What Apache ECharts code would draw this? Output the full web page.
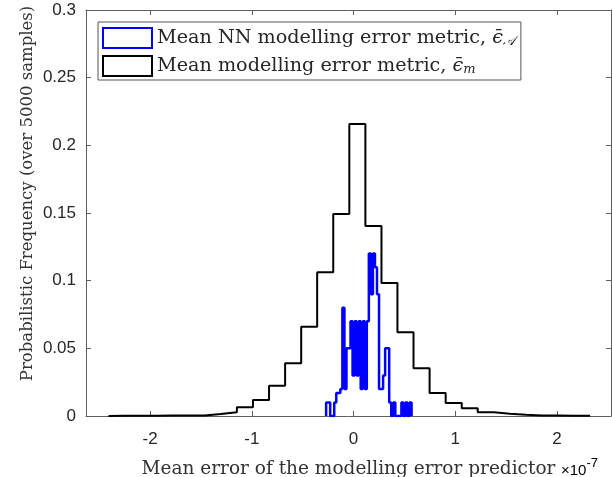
<!DOCTYPE html>
<html>
<head>
<meta charset="utf-8">
<script src="https://cdn.jsdelivr.net/npm/echarts@6/dist/echarts.min.js"></script>
<style>html,body{margin:0;padding:0;background:#fff;}#c{width:612px;height:477px;}</style>
</head>
<body>
<div id="c"></div>
<script>
// ---- data ----
const xTickValues = [-2, -1, 0, 1, 2];
const blackName = 'Mean modelling error metric';
const blueName = 'Mean NN modelling error metric';
// black histogram (bin edges in units of 1e-7, probabilistic frequency per bin)
const blackEdges = [-2.409, -2.251, -2.093, -1.936, -1.778, -1.620, -1.462, -1.305, -1.147, -0.989,
  -0.831, -0.673, -0.515, -0.358, -0.200, -0.042, 0.116, 0.274, 0.431, 0.589,
  0.747, 0.905, 1.063, 1.220, 1.378, 1.536, 1.694, 1.852, 2.009, 2.167, 2.325];
const blackValues = [0.0002, 0.0002, 0.0002, 0.0004, 0.0004, 0.0004, 0.0014, 0.0028, 0.0064, 0.0118,
  0.0224, 0.039, 0.066, 0.1062, 0.1493, 0.2158, 0.1404, 0.0983, 0.0618, 0.0352,
  0.017, 0.0096, 0.0057, 0.0027, 0.0017, 0.001, 0.0004, 0.0004, 0.0002, 0.0002];
// blue histogram
const blueEdges = [-0.27, -0.25, -0.23, -0.21, -0.19, -0.17, -0.15, -0.13, -0.11, -0.09,
  -0.07, -0.05, -0.03, -0.01, 0.01, 0.03, 0.05, 0.07, 0.09, 0.11,
  0.13, 0.15, 0.17, 0.19, 0.21, 0.23, 0.25, 0.27, 0.29, 0.31,
  0.33, 0.35, 0.37, 0.39, 0.41, 0.43, 0.45, 0.47, 0.49, 0.51,
  0.53, 0.55, 0.57];
const blueValues = [0.01, 0.01, 0, 0, 0.01, 0.017, 0.017, 0.02, 0.08, 0.02,
  0.05, 0.05, 0.07, 0.03, 0.07, 0.03, 0.07, 0.02, 0.07, 0.02,
  0.07, 0.12, 0.09, 0.12, 0.11, 0.09, 0.02, 0.02, 0.03, 0.05,
  0.05, 0.01, 0, 0.01, 0, 0, 0, 0.01, 0, 0.01,
  0, 0.01];

function stairs(edges, values) {
  const pts = [[edges[0], 0]];
  for (let i = 0; i < values.length; i++) pts.push([edges[i], values[i]]);
  pts.push([edges[edges.length - 1], values[values.length - 1]]);
  pts.push([edges[edges.length - 1], 0]);
  return pts;
}

const axisColor = '#5e5e5e';
const textColor = '#262626';
const serif = 'DejaVu Serif';
const sans = 'Liberation Sans';

const chart = echarts.init(document.getElementById('c'), null, {renderer: 'canvas'});
const tickStyle = {color: axisColor, width: 1};
chart.setOption({
  animation: false,
  backgroundColor: '#fff',
  grid: {left: 86, right: 1, top: 10, bottom: 61, containLabel: false, outerBoundsMode: 'none'},
  xAxis: [{
    type: 'value', position: 'bottom', min: -2.63, max: 2.53,
    name: 'Mean error of the modelling error predictor', nameLocation: 'middle', nameGap: 44,
    nameTextStyle: {fontFamily: serif, fontSize: 18.5, color: '#333'},
    axisLine: {show: true, onZero: false, lineStyle: tickStyle},
    axisTick: {show: true, inside: true, length: 5, customValues: xTickValues, lineStyle: tickStyle},
    axisLabel: {customValues: xTickValues, fontFamily: sans, fontSize: 17, color: textColor, margin: 15},
    splitLine: {show: false}
  }, {
    type: 'value', position: 'top', min: -2.63, max: 2.53,
    axisLine: {show: true, onZero: false, lineStyle: tickStyle},
    axisTick: {show: true, inside: true, length: 5, customValues: xTickValues, lineStyle: tickStyle},
    axisLabel: {show: false}, splitLine: {show: false}
  }],
  yAxis: [{
    type: 'value', position: 'left', min: 0, max: 0.3, interval: 0.05,
    name: 'Probabilistic Frequency (over 5000 samples)', nameLocation: 'middle', nameGap: 50,
    nameMoveOverlap: false,
    nameTextStyle: {fontFamily: serif, fontSize: 16.5, color: '#333', padding: [0, 0, 0, 39]},
    axisLine: {show: true, onZero: false, lineStyle: tickStyle},
    axisTick: {show: true, inside: true, length: 5, lineStyle: tickStyle},
    axisLabel: {fontFamily: sans, fontSize: 17, color: textColor, margin: 10},
    splitLine: {show: false}
  }, {
    type: 'value', position: 'right', min: 0, max: 0.3, interval: 0.05,
    axisLine: {show: true, onZero: false, lineStyle: tickStyle},
    axisTick: {show: true, inside: true, length: 5, lineStyle: tickStyle},
    axisLabel: {show: false}, splitLine: {show: false}
  }],
  legend: {
    orient: 'vertical', left: 98, top: 22,
    padding: [5, 6, 3, 4], itemGap: 6, itemWidth: 49, itemHeight: 20,
    backgroundColor: '#fff', borderColor: '#555', borderWidth: 1,
    data: [
      {name: blueName, icon: 'rect', itemStyle: {color: '#fff', borderColor: '#0000ff', borderWidth: 2}},
      {name: blackName, icon: 'rect', itemStyle: {color: '#fff', borderColor: '#000', borderWidth: 2}}
    ],
    formatter: function (name) {
      if (name === blueName) return '{t|Mean NN modelling error metric, }{e|\u03F5\u0304}{s|\uD835\uDC9C}';
      return '{t|Mean modelling error metric, }{e|\u03F5\u0304}{s|m}';
    },
    textStyle: {
      rich: {
        t: {fontFamily: serif, fontSize: 19.2, color: textColor},
        e: {fontFamily: serif, fontSize: 19.2, fontStyle: 'italic', color: textColor},
        s: {fontFamily: serif, fontSize: 13, fontStyle: 'italic', color: textColor, padding: [8, 0, 0, 0]}
      }
    }
  },
  graphic: [{
    type: 'text', left: 561, top: 457,
    style: {
      text: '{a|\u00D710}{b|-7}',
      rich: {
        a: {fontFamily: sans, fontSize: 15, color: textColor, padding: [8, 0, 0, 0]},
        b: {fontFamily: sans, fontSize: 13, color: textColor, padding: [0, 0, 6, 0]}
      }
    }
  }],
  series: [{
    name: blackName, type: 'line', step: 'end', xAxisIndex: 0, yAxisIndex: 0,
    data: stairs(blackEdges, blackValues), showSymbol: false, symbol: 'none',
    lineStyle: {color: '#000', width: 2}, itemStyle: {color: '#000'}, z: 3
  }, {
    name: blueName, type: 'line', step: 'end', xAxisIndex: 0, yAxisIndex: 0,
    data: stairs(blueEdges, blueValues), showSymbol: false, symbol: 'none',
    lineStyle: {color: '#0000ff', width: 2.5}, itemStyle: {color: '#0000ff'}, z: 4
  }]
});
</script>
</body>
</html>
